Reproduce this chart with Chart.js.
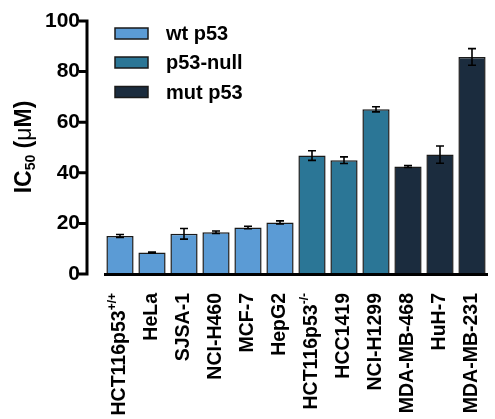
<!DOCTYPE html>
<html>
<head>
    <title>IC50 by cell line</title>
    <script src="https://cdn.jsdelivr.net/npm/chart.js"></script>
    <style>
        html, body { margin: 0; padding: 0; background: #fff; }
        .chart-container { width: 495px; height: 419px; }
    </style>
</head>
<body>
    <div class="chart-container">
        <canvas id="icChart"></canvas>
    </div>

    <script>
        // cell lines (x categories) and superscript part of the label
        const cellLines = ["HCT116p53", "HeLa", "SJSA-1", "NCI-H460", "MCF-7", "HepG2",
            "HCT116p53", "HCC1419", "NCI-H1299", "MDA-MB-468", "HuH-7", "MDA-MB-231"];
        const labelSup = ["+/+", "", "", "", "", "", "-/-", "", "", "", "", ""];

        // IC50 (uM) per group, null where the cell line is in another group
        const wtValues   = [15.0, 8.5, 15.9, 16.5, 18.4, 20.4, null, null, null, null, null, null];
        const nullValues = [null, null, null, null, null, null, 46.8, 45.0, 65.1, null, null, null];
        const mutValues  = [null, null, null, null, null, null, null, null, null, 42.5, 47.2, 85.8];
        // error (+/-)
        const errors = [0.6, 0.2, 2.1, 0.5, 0.5, 0.6, 1.9, 1.3, 1.0, 0.4, 3.4, 3.3];

        const yTicks = [0, 20, 40, 60, 80, 100];

        const FONT = "'Liberation Sans', Arial, sans-serif";

        // error bars on top of each bar
        const errorBars = {
            id: "errorBars",
            afterDatasetsDraw(chart) {
                const ctx = chart.ctx;
                const x = chart.scales.x, y = chart.scales.y;
                ctx.save();
                ctx.strokeStyle = "#000";
                ctx.lineWidth = 1.6;
                chart.data.datasets.forEach(ds => {
                    ds.data.forEach((v, i) => {
                        if (v === null) return;
                        const px = x.getPixelForValue(i);
                        const top = y.getPixelForValue(v + errors[i]);
                        const bot = y.getPixelForValue(v - errors[i]);
                        ctx.beginPath();
                        ctx.moveTo(px, top); ctx.lineTo(px, bot);
                        ctx.moveTo(px - 4, top); ctx.lineTo(px + 4, top);
                        ctx.moveTo(px - 4, bot); ctx.lineTo(px + 4, bot);
                        ctx.stroke();
                    });
                });
                ctx.restore();
            }
        };

        // offset axes (Prism style), rotated x labels, y title, legend
        const decorations = {
            id: "decorations",
            afterDraw(chart) {
                const ctx = chart.ctx;
                const x = chart.scales.x, y = chart.scales.y;
                const area = chart.chartArea;
                ctx.save();
                ctx.strokeStyle = "#000";
                ctx.lineWidth = 3;
                ctx.lineCap = "butt";

                // y axis line and ticks
                const axisX = 87;
                ctx.beginPath();
                ctx.moveTo(axisX, y.getPixelForValue(100) - 1.5);
                ctx.lineTo(axisX, y.getPixelForValue(0) + 1.5);
                yTicks.forEach(t => {
                    const py = y.getPixelForValue(t);
                    ctx.moveTo(axisX - 8, py);
                    ctx.lineTo(axisX, py);
                });
                ctx.stroke();

                // x axis line
                const py0 = y.getPixelForValue(0) + 0.5;
                ctx.beginPath();
                ctx.moveTo(area.left, py0);
                ctx.lineTo(area.right, py0);
                ctx.stroke();

                // x labels, rotated
                ctx.fillStyle = "#000";
                ctx.textBaseline = "middle";
                cellLines.forEach((name, i) => {
                    const px = x.getPixelForValue(i);
                    ctx.save();
                    ctx.translate(px, 293);
                    ctx.rotate(-Math.PI / 2);
                    ctx.font = "bold 19.5px " + FONT;
                    const wMain = ctx.measureText(name).width;
                    ctx.font = "bold 12px " + FONT;
                    const wSup = labelSup[i] ? ctx.measureText(labelSup[i]).width : 0;
                    ctx.textAlign = "left";
                    ctx.font = "bold 19.5px " + FONT;
                    ctx.fillText(name, -(wMain + wSup), 0);
                    if (labelSup[i]) {
                        ctx.font = "bold 12px " + FONT;
                        ctx.fillText(labelSup[i], -wSup, -7);
                    }
                    ctx.restore();
                });

                // y title: IC50 (uM) with subscript
                ctx.save();
                ctx.translate(25, 147);
                ctx.rotate(-Math.PI / 2);
                ctx.textAlign = "left";
                ctx.textBaseline = "middle";
                const parts = [
                    { t: "IC", f: "bold 23px " + FONT, dy: 0 },
                    { t: "50", f: "bold 14px " + FONT, dy: 6 },
                    { t: " (", f: "bold 23px " + FONT, dy: 0 },
                    { t: "\u03bc", f: "23px " + FONT, dy: 0 },
                    { t: "M)", f: "bold 23px " + FONT, dy: 0 }
                ];
                let total = 0;
                parts.forEach(p => { ctx.font = p.f; p.w = ctx.measureText(p.t).width; total += p.w; });
                let cx = -total / 2;
                parts.forEach(p => {
                    ctx.font = p.f;
                    ctx.fillText(p.t, cx, p.dy);
                    cx += p.w;
                });
                ctx.restore();

                // legend
                ctx.textAlign = "left";
                ctx.textBaseline = "middle";
                ctx.font = "bold 20px " + FONT;
                const rows = [33.5, 62.5, 92];
                chart.data.datasets.forEach((ds, k) => {
                    ctx.fillStyle = ds.backgroundColor;
                    ctx.fillRect(115, rows[k] - 5.5, 33, 11);
                    ctx.lineWidth = 1.5;
                    ctx.strokeStyle = "#1a1a1a";
                    ctx.strokeRect(115, rows[k] - 5.5, 33, 11);
                    ctx.fillStyle = "#000";
                    ctx.fillText(ds.label, 166, rows[k] + 1);
                });
                ctx.restore();
            }
        };

        const barStyle = {
            borderColor: "#1a1a1a",
            borderWidth: 1.5,
            categoryPercentage: 0.85,
            barPercentage: 1.0,
            skipNull: true
        };

        new Chart(document.getElementById("icChart").getContext("2d"), {
            type: "bar",
            data: {
                labels: cellLines.map((c, i) => c + labelSup[i]),
                datasets: [
                    Object.assign({ label: "wt p53", data: wtValues, backgroundColor: "#5b9bd5" }, barStyle),
                    Object.assign({ label: "p53-null", data: nullValues, backgroundColor: "#2b7696" }, barStyle),
                    Object.assign({ label: "mut p53", data: mutValues, backgroundColor: "#1b2c3e" }, barStyle)
                ]
            },
            options: {
                responsive: true,
                maintainAspectRatio: false,
                animation: false,
                layout: { padding: { left: 0, right: 7, top: 21, bottom: 145 } },
                plugins: {
                    legend: { display: false },
                    tooltip: { enabled: false }
                },
                scales: {
                    x: {
                        grid: { display: false },
                        border: { display: false },
                        ticks: { display: false },
                        afterFit: scale => { scale.height = 0; scale.paddingLeft = 0; scale.paddingRight = 0; }
                    },
                    y: {
                        min: 0,
                        max: 100,
                        afterFit: scale => {
                            scale.width = 104;
                            scale.paddingTop = 0;
                            scale.paddingBottom = 0;
                        },
                        afterBuildTicks: scale => { scale.ticks = yTicks.map(v => ({ value: v })); },
                        grid: { display: false },
                        border: { display: false },
                        ticks: {
                            color: "#000",
                            padding: 16,
                            font: { family: FONT, size: 21, weight: "bold" }
                        }
                    }
                }
            },
            plugins: [errorBars, decorations]
        });
    </script>
</body>
</html>
